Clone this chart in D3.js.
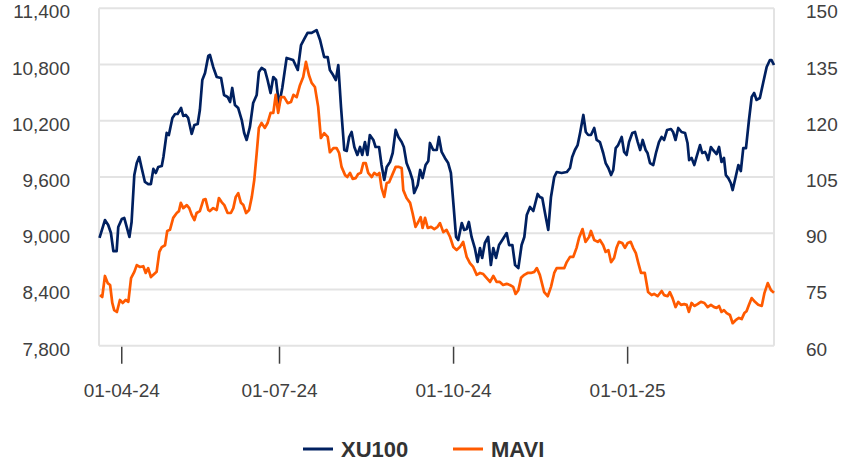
<!DOCTYPE html>
<html>
<head>
<meta charset="utf-8">
<script src="https://cdn.jsdelivr.net/npm/d3@7"></script>
<style>
  body { margin: 0; background: #fff; }
  text { font-family: "Liberation Sans", Arial, sans-serif; }
</style>
</head>
<body>
<svg id="chart" width="855" height="470"></svg>
<script>
// x = trading-day index from 20-03-24
const xuDays = [0,2.0,3.2,4.2,5.1,6.3,6.9,8.2,9.1,10.0,11.0,11.8,12.8,13.7,14.6,15.5,16.7,17.9,18.9,19.8,20.7,21.6,22.9,23.5,24.7,25.5,26.8,27.8,28.7,30.0,30.8,31.7,32.6,33.9,34.9,36.1,36.9,37.8,38.8,40.0,40.6,41.8,43.1,44.7,45.8,47.1,48.0,48.8,49.8,51.0,52.3,53.2,54.1,55.3,56.5,57.8,58.6,59.6,60.8,61.8,62.9,63.9,64.9,66.0,67.2,68.8,70.0,71.2,72.9,74.1,75.3,76.5,78.0,79.8,81.1,82.6,83.9,84.7,85.9,86.9,87.8,88.8,90.0,90.9,91.8,92.7,93.7,94.8,95.8,96.6,97.6,98.5,99.4,100.7,101.5,102.8,103.7,104.7,105.6,106.8,107.8,108.9,109.9,111.1,111.9,112.9,114.2,115.1,115.7,117.0,117.9,118.8,119.9,120.9,121.5,122.7,124.0,124.8,125.8,127.0,128.2,129.2,130.1,131.1,131.9,133.2,134.1,135.0,135.8,136.8,138.0,139.0,139.9,140.7,141.7,142.9,143.9,144.8,145.8,146.9,148.1,149.7,150.6,151.8,152.8,154.0,155.2,156.2,157.1,158.3,159.5,161.1,161.9,162.8,163.8,165.0,166.0,167.2,168.1,169.9,171.8,173.0,173.8,174.8,175.8,176.7,177.9,178.8,179.7,180.7,181.9,182.8,184.0,185.2,186.1,187.1,188.1,188.9,189.8,190.7,192.0,192.9,193.8,194.7,195.9,196.9,197.9,198.8,199.7,200.8,201.5,202.4,203.6,204.6,205.7,206.7,207.6,208.7,210.1,210.9,211.8,212.8,214.0,215.3,216.2,216.8,217.7,218.7,219.5,220.8,221.6,222.6,223.2,223.8,224.8,225.6,226.9,227.8,228.7,229.6,230.3,231.2,232.1,232.8,233.9,234.9,235.8,236.7,237.7,238.8,239.8,240.7,241.6,242.8,244.0,245.3,246.5,247.1,248];
const xuVals = [8950,9141,9088,9002,8810,8810,9067,9152,9163,9067,8960,9120,9621,9749,9813,9696,9547,9525,9525,9686,9643,9707,9717,9813,10070,10048,10230,10272,10272,10336,10251,10262,10230,10059,10155,10165,10315,10635,10710,10891,10902,10774,10667,10656,10475,10454,10400,10550,10368,10336,10208,10070,9995,10134,10390,10475,10720,10763,10742,10635,10496,10667,10635,10368,10550,10870,10859,10848,10742,11008,11073,11137,11137,11168,11062,10880,10880,10742,10688,10635,10795,10347,9888,9878,10027,10080,9920,9835,9920,9835,9973,9835,10048,9995,9920,9920,9728,9568,9707,9760,9856,10102,10027,9973,9920,9749,9653,9568,9429,9515,9675,9589,9728,9771,9963,9888,9888,10027,9867,9803,9749,9643,9323,8960,8928,9109,9035,9045,9120,8960,8842,8693,8842,8736,8896,8960,8661,8842,8736,8874,8928,9002,8874,8874,8661,8629,8874,8960,9195,9280,9237,9419,9387,9376,9216,9035,9387,9600,9653,9643,9653,9696,9813,9888,9941,10070,10262,10080,10048,10048,10123,9995,9973,9856,9749,9696,9621,9675,9909,9941,10027,9867,9835,9973,10070,10080,9973,9888,9995,9888,9856,9749,9728,9856,9973,10027,9995,10102,10112,10080,9995,10123,10080,10070,9963,9781,9803,9728,9813,9941,9856,9867,9835,9781,9920,9888,9845,9920,9760,9803,9621,9589,9536,9461,9600,9728,9664,9909,9909,10208,10454,10496,10422,10443,10603,10774,10848,10848,10795];

const maviDays = [0.2,1.0,2.0,3.0,3.9,4.7,5.4,6.4,7.5,8.5,9.6,10.6,11.6,12.8,13.7,14.9,16.1,17.0,17.9,18.9,19.8,21.0,22.0,22.9,24.1,24.9,25.9,27.1,28.4,29.2,29.9,30.8,32.1,33.0,33.9,34.9,35.7,36.9,38.2,39.0,40.0,40.6,41.8,43.1,43.9,44.9,45.9,47.1,48.3,49.2,50.1,51.0,52.0,52.9,53.9,55.0,56.0,56.9,57.8,58.6,59.6,60.8,61.8,62.9,63.9,64.8,65.7,66.7,67.9,69.2,70.4,71.3,72.5,73.7,74.9,75.9,77.0,78.0,79.2,80.4,81.4,82.6,83.9,84.7,86.0,87.2,88.1,89.0,90.3,91.1,92.1,93.1,94.2,95.1,96.1,97.0,97.9,98.8,100.1,101.0,102.1,102.9,103.7,104.7,105.6,106.5,107.6,108.9,110.1,111.1,111.7,112.9,114.2,115.1,116.2,117.2,118.1,118.8,119.7,120.7,121.9,123.1,124.3,125.2,126.4,127.6,128.9,130.1,131.3,132.5,133.7,135.0,136.2,137.4,138.7,139.9,141.1,142.3,143.6,144.8,146.0,147.2,148.4,149.7,150.9,152.1,153.0,154.0,155.0,156.2,157.4,158.6,159.9,160.8,161.9,163.5,164.8,166.0,167.2,168.1,169.3,170.9,171.8,173.0,174.2,175.4,176.3,177.6,178.7,180.0,180.7,181.9,183.2,184.0,185.2,186.1,187.1,188.1,189.2,190.1,191.0,192.2,193.2,194.2,195.3,196.2,197.2,198.1,199.1,200.5,201.7,203.0,203.9,205.2,206.7,207.6,208.9,209.7,210.7,211.8,212.8,213.8,215.0,215.9,216.7,217.7,218.7,219.9,221.1,222.4,223.6,224.8,226.0,226.9,227.8,228.7,229.6,230.6,231.8,232.8,233.9,235.1,236.1,237.1,237.9,238.8,239.8,241.0,242.2,243.5,244.5,245.7,246.9,248];
const maviVals = [73.5,73.0,78.6,76.7,76.2,71.4,69.5,69.0,72.2,71.4,72.2,71.7,78.0,79.7,81.5,81.0,81.2,79.4,80.7,78.3,78.9,79.7,85.0,86.3,86.8,90.6,90.9,94.1,95.4,95.9,98.1,96.7,97.5,96.7,94.9,93.5,95.4,95.9,98.9,99.1,96.2,95.9,96.7,96.2,99.4,98.3,97.5,95.4,95.4,96.7,99.7,100.7,98.1,97.5,95.4,96.2,99.7,104.2,111.4,118.1,119.4,118.1,119.4,122.1,122.1,126.9,122.1,126.3,126.3,124.7,125.0,126.9,126.3,129.5,131.7,135.7,132.2,130.1,129.0,123.7,115.4,116.7,115.7,111.6,112.7,112.7,111.4,107.7,105.5,105.0,106.1,104.5,104.7,105.8,106.1,108.7,108.7,106.1,105.0,106.1,105.5,106.1,102.1,99.7,103.4,103.6,105.5,107.7,107.7,107.4,101.5,99.4,98.1,95.4,91.7,93.0,94.3,91.4,94.1,91.4,91.7,91.1,91.7,92.7,90.3,90.9,89.0,86.3,85.5,86.3,87.7,83.7,82.0,81.0,78.9,79.4,79.1,78.1,77.0,78.6,77.0,77.0,76.2,76.5,76.2,75.7,73.8,74.8,78.1,78.9,79.4,79.4,79.7,80.7,78.9,74.3,73.2,75.7,79.4,80.7,80.7,80.7,82.3,83.7,83.7,86.1,88.7,91.1,87.7,89.0,90.6,88.2,87.7,88.2,86.8,85.0,85.5,82.3,83.4,86.1,87.7,87.4,86.1,87.4,87.7,86.1,84.7,82.1,79.4,79.4,74.3,73.5,73.8,73.2,74.6,73.5,73.2,74.3,72.7,70.3,71.7,70.9,71.1,70.9,69.0,71.4,70.6,71.1,71.7,71.4,70.3,70.9,70.3,70.1,70.6,69.0,69.5,68.7,68.2,66.0,66.8,67.4,67.1,68.7,69.2,70.9,72.7,71.7,70.9,70.6,74.1,76.7,74.8,74.1];

const leftTicks = [7800, 8400, 9000, 9600, 10200, 10800, 11400];
const rightTicks = [60, 75, 90, 105, 120, 135, 150];
const dateTicks = [8, 66, 130, 194];
const dateLabels = ["01-04-24", "01-07-24", "01-10-24", "01-01-25"];
const seriesNames = ["XU100", "MAVI"];
const seriesColors = ["#002060", "#ff5a00"];

const svg = d3.select("#chart");
const plotLeft = 99, plotRight = 774, plotTop = 8.3, plotBottom = 345.7;
const fs = 19;

const x = d3.scaleLinear().domain([0, 248]).range([plotLeft + 0.5, plotRight]);
const yL = d3.scaleLinear().domain([7800, 11400]).range([plotBottom, plotTop]);
const yR = d3.scaleLinear().domain([60, 150]).range([plotBottom, plotTop]);

// grid + frame
svg.append("g")
  .selectAll("line")
  .data(leftTicks)
  .join("line")
    .attr("x1", plotLeft).attr("x2", plotRight)
    .attr("y1", d => yL(d)).attr("y2", d => yL(d))
    .attr("stroke", "#e3e3e3")
    .attr("stroke-width", 2);
svg.append("g")
  .selectAll("line")
  .data([plotLeft, plotRight])
  .join("line")
    .attr("x1", d => d).attr("x2", d => d)
    .attr("y1", plotTop).attr("y2", plotBottom)
    .attr("stroke", "#e3e3e3")
    .attr("stroke-width", 2);

// axes
const axL = svg.append("g")
    .attr("transform", `translate(${plotLeft},0)`)
    .call(d3.axisLeft(yL).tickValues(leftTicks).tickFormat(d3.format(",")).tickSize(0).tickPadding(29));
const axR = svg.append("g")
    .attr("transform", `translate(${plotRight},0)`)
    .call(d3.axisRight(yR).tickValues(rightTicks).tickSize(0).tickPadding(32));
const axB = svg.append("g")
    .attr("transform", `translate(0,${plotBottom + 1})`)
    .call(d3.axisBottom(x).tickValues(dateTicks).tickFormat((d, i) => dateLabels[i]).tickSize(17).tickPadding(20));

[axL, axR, axB].forEach(a => {
  a.select(".domain").remove();
  a.selectAll("text").attr("fill", "#404040").style("font-size", fs + "px");
  a.selectAll("line").attr("stroke", "#404040").attr("stroke-width", 1.5);
});
// value labels sit a little below their gridline
axL.selectAll("text").attr("dy", "0.5em");
axR.selectAll("text").attr("dy", "0.5em");

// lines
const line = (xs, vs, ys) => d3.line()
    .x(i => x(xs[i]))
    .y(i => ys(vs[i]))(d3.range(xs.length));

svg.append("path")
    .attr("d", line(xuDays, xuVals, yL))
    .attr("fill", "none")
    .attr("stroke", seriesColors[0])
    .attr("stroke-width", 2.7)
    .attr("stroke-linejoin", "round");

svg.append("path")
    .attr("d", line(maviDays, maviVals, yR))
    .attr("fill", "none")
    .attr("stroke", seriesColors[1])
    .attr("stroke-width", 2.7)
    .attr("stroke-linejoin", "round");

// legend
const legX = [303, 453];
const leg = svg.append("g")
  .selectAll("g")
  .data(seriesNames)
  .join("g")
    .attr("transform", (d, i) => `translate(${legX[i]},449)`);
leg.append("line")
    .attr("x1", 0).attr("x2", 30)
    .attr("stroke", (d, i) => seriesColors[i])
    .attr("stroke-width", 3);
leg.append("text")
    .attr("x", 38)
    .attr("dy", "0.36em")
    .attr("fill", "#333")
    .style("font-size", "22px")
    .style("font-weight", "bold")
    .text(d => d);
</script>
</body>
</html>
